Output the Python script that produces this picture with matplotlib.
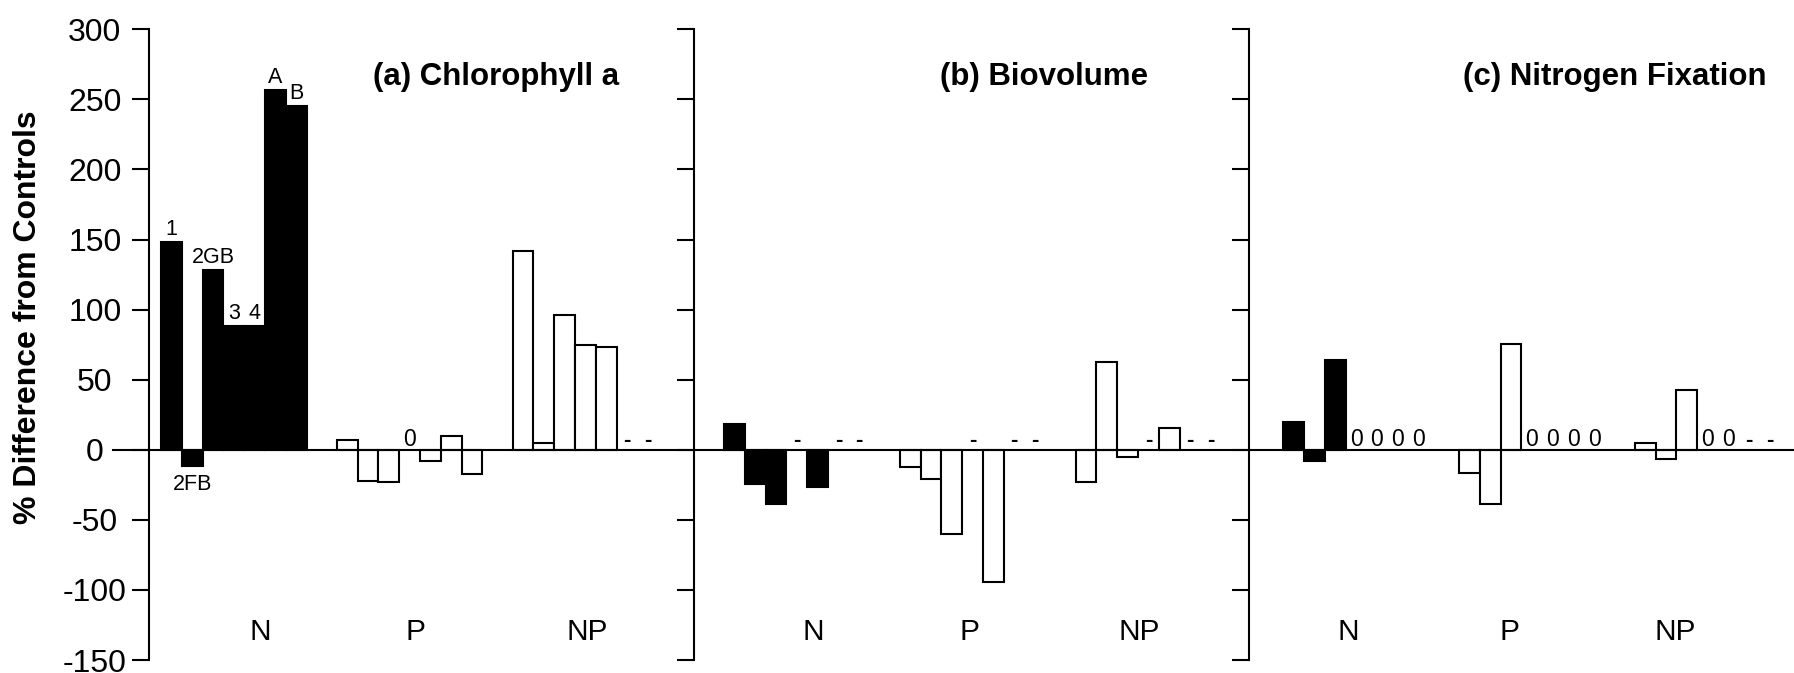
import numpy as np
import matplotlib
matplotlib.use('Agg')
import matplotlib.pyplot as plt

plt.rcParams['font.family'] = ['Liberation Sans', 'DejaVu Sans']
plt.rcParams['axes.unicode_minus'] = False

nan = np.nan

# group names along each panel
groups = ['N', 'P', 'NP']

# (a) chlorophyll a, % difference from controls
chl_n = [148, -11.5, 128.5, 88, 88, 257, 245.5]
chl_p = [7, -22, -23, 0, -8, 9.5, -17.5]
chl_np = [141.5, 5, 96, 74.5, 73, nan, nan]
chl_n_labels = ['1', '2FB', '2GB', '3', '4', 'A', 'B']

# (b) biovolume  (nan = no data, drawn as "-")
bio_n = [18.3, -24.2, -38.7, nan, -26.5, nan, nan]
bio_p = [-12.4, -20.6, -60.2, nan, -94.3, nan, nan]
bio_np = [-22.7, 62.3, -5.3, nan, 15.4, nan, nan]

# (c) nitrogen fixation  (0 = drawn as "0")
fix_n = [19.5, -7.8, 64, 0, 0, 0, 0]
fix_p = [-16.5, -39, 75.5, 0, 0, 0, 0]
fix_np = [4.7, -6.3, 42.5, 0, 0, nan, nan]

titles = ['(a) Chlorophyll a', '(b) Biovolume', '(c) Nitrogen Fixation']
yticks = np.arange(-150, 301, 50)

# layout (pixels of the 1794x673 figure)
W, H = 1794, 673
SLOT = 20.8          # bar width in px
PERIOD = 8.45        # group spacing, in bar widths
ax_bottom, ax_top = 13, 643.7
panel_left = [149, 694.3, 1249.2]
panel_width = [545.3, 554.9, 544.8]
first_bar = [0.58, 1.43, 1.64]
title_x = [0.636, 0.631, 0.671]
group_x = [[5.33, 12.8, 21.07], [5.73, 13.24, 21.41], [4.77, 12.5, 20.5]]

data = [[chl_n, chl_p, chl_np], [bio_n, bio_p, bio_np], [fix_n, fix_p, fix_np]]

fig = plt.figure(figsize=(W / 100, H / 100), dpi=100)
fig.patch.set_facecolor('white')

for i in range(3):
    ax = fig.add_axes([panel_left[i] / W, ax_bottom / H,
                       panel_width[i] / W, (ax_top - ax_bottom) / H])
    ax.set_xlim(0, panel_width[i] / SLOT)
    ax.set_ylim(-150, 300)
    ax.patch.set_alpha(0)

    for g, vals in enumerate(data[i]):
        v = np.array(vals, dtype=float)
        x = first_bar[i] + g * PERIOD + np.arange(len(v))
        ok = ~np.isnan(v) & (v != 0)
        ax.bar(x[ok], v[ok], width=1, align='edge',
               color='black' if g == 0 else 'white',
               edgecolor='black', linewidth=1.5, zorder=2)
        # "0" = zero change, "-" = no data
        for xi, vi in zip(x, v):
            if np.isnan(vi):
                ax.annotate('-', (xi + 0.5, 0), xytext=(0, 3),
                            textcoords='offset points', ha='center',
                            va='baseline', fontsize=16, fontweight='bold')
            elif vi == 0:
                ax.annotate('0', (xi + 0.5, 0), xytext=(0, 2.5),
                            textcoords='offset points', ha='center',
                            va='baseline', fontsize=16.5)
        if i == 0 and g == 0:
            for xi, vi, lab in zip(x, v, chl_n_labels):
                if vi >= 0:
                    ax.annotate(lab, (xi + 0.5, vi), xytext=(0, 5),
                                textcoords='offset points', ha='center',
                                va='baseline', fontsize=15.5)
                else:
                    ax.annotate(lab, (xi + 0.5, vi), xytext=(0, -6),
                                textcoords='offset points', ha='center',
                                va='top', fontsize=15.5)
        ax.text(group_x[i][g], -130, groups[g], ha='center', va='center',
                fontsize=21.5)

    # zero line runs through all panels
    if i == 0:
        ax.axhline(0, xmin=-36 / panel_width[i], xmax=1, color='black',
                   linewidth=1.5, clip_on=False, zorder=3)
    else:
        ax.axhline(0, color='black', linewidth=1.5, zorder=3)

    ax.text(title_x[i], 266, titles[i], transform=ax.get_yaxis_transform(),
            ha='center', va='center', fontsize=22.5, fontweight='bold')

    for s in ['top', 'right', 'bottom']:
        ax.spines[s].set_visible(False)
    ax.spines['left'].set_linewidth(1.5)
    ax.set_xticks([])
    ax.set_yticks(yticks)
    ax.tick_params(axis='y', direction='out', length=12.5, width=1.5,
                   labelsize=23, pad=26.5)
    if i == 0:
        plt.setp(ax.get_yticklabels(), ha='center')
    else:
        ax.set_yticklabels([])

fig.text(28 / W, 1 - 317.6 / H, '% Difference from Controls', rotation=90,
         ha='center', va='center', fontsize=23, fontweight='bold')

fig.savefig('out.png', dpi=100)
